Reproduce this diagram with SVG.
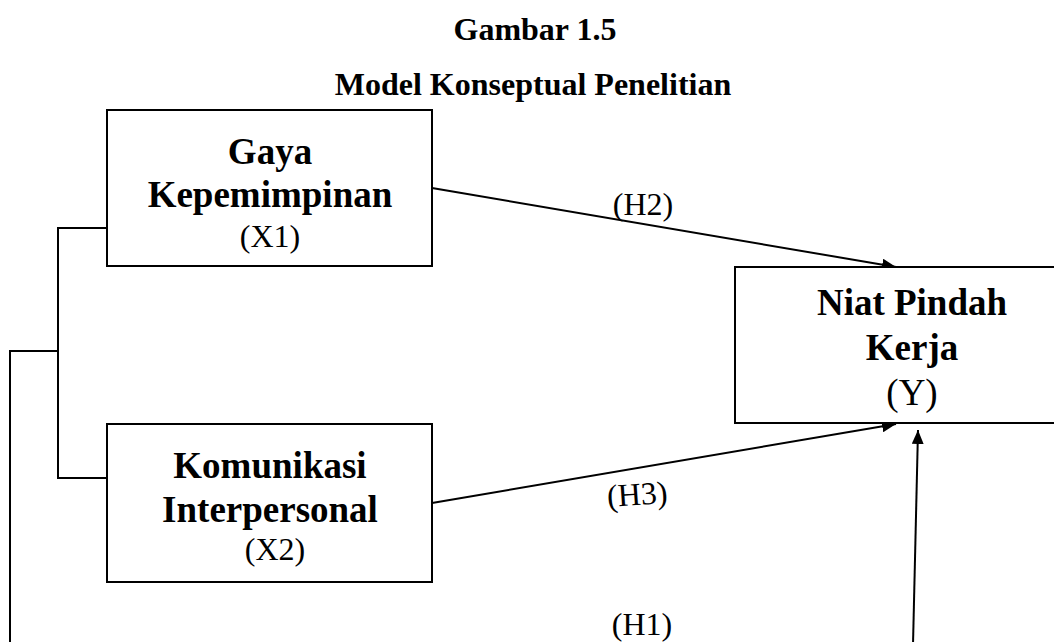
<svg xmlns="http://www.w3.org/2000/svg" width="1054" height="642" viewBox="0 0 1054 642">
<style>
.box{fill:#fff;stroke:#000;stroke-width:2}
.ln{fill:none;stroke:#000;stroke-width:2}
.t{font-family:"Liberation Serif","Times New Roman",serif;fill:#000;text-anchor:middle}
.title{font-weight:bold;font-size:32px}
.name{font-weight:bold;font-size:37px}
.code{font-size:32px}
.lbl{font-size:32px}
</style>
<defs>
<marker id="arr" viewBox="0 0 14 12" refX="14" refY="6" markerWidth="14" markerHeight="12" markerUnits="userSpaceOnUse" orient="auto">
<path d="M0,0 L14,6 L0,12 Z" fill="#000"/>
</marker>
</defs>
<rect width="1054" height="642" fill="#fff"/>
<g id="title">
<text class="t title" x="535" y="40">Gambar 1.5</text>
<text class="t title" x="533" y="95">Model Konseptual Penelitian</text>
</g>
<g id="connectors">
<polyline class="ln" points="107,228 58,228 58,478 107,478"/>
<polyline class="ln" points="58,351 10,351 10,645"/>
<line class="ln" x1="432" y1="188" x2="896" y2="267" marker-end="url(#arr)"/>
<line class="ln" x1="432" y1="503" x2="896" y2="424" marker-end="url(#arr)"/>
<line class="ln" x1="913" y1="645" x2="918" y2="430" marker-end="url(#arr)"/>
<text class="t lbl" x="643" y="215">(H2)</text>
<text class="t lbl" x="638" y="505" transform="rotate(-4 638 505)">(H3)</text>
<text class="t lbl" x="642" y="635">(H1)</text>
</g>
<g id="x1">
<rect class="box" x="107" y="110" width="325" height="156"/>
<text class="t name" x="270" y="164">Gaya</text>
<text class="t name" x="270" y="207">Kepemimpinan</text>
<text class="t code" x="270" y="247">(X1)</text>
</g>
<g id="x2">
<rect class="box" x="107" y="424" width="325" height="158"/>
<text class="t name" x="270" y="478">Komunikasi</text>
<text class="t name" x="270" y="522">Interpersonal</text>
<text class="t code" x="275" y="560">(X2)</text>
</g>
<g id="y">
<rect class="box" x="735" y="267" width="360" height="156"/>
<text class="t name" x="912" y="315">Niat Pindah</text>
<text class="t name" x="912" y="360">Kerja</text>
<text class="t name" x="912" y="405" style="font-weight:normal">(Y)</text>
</g>
</svg>
